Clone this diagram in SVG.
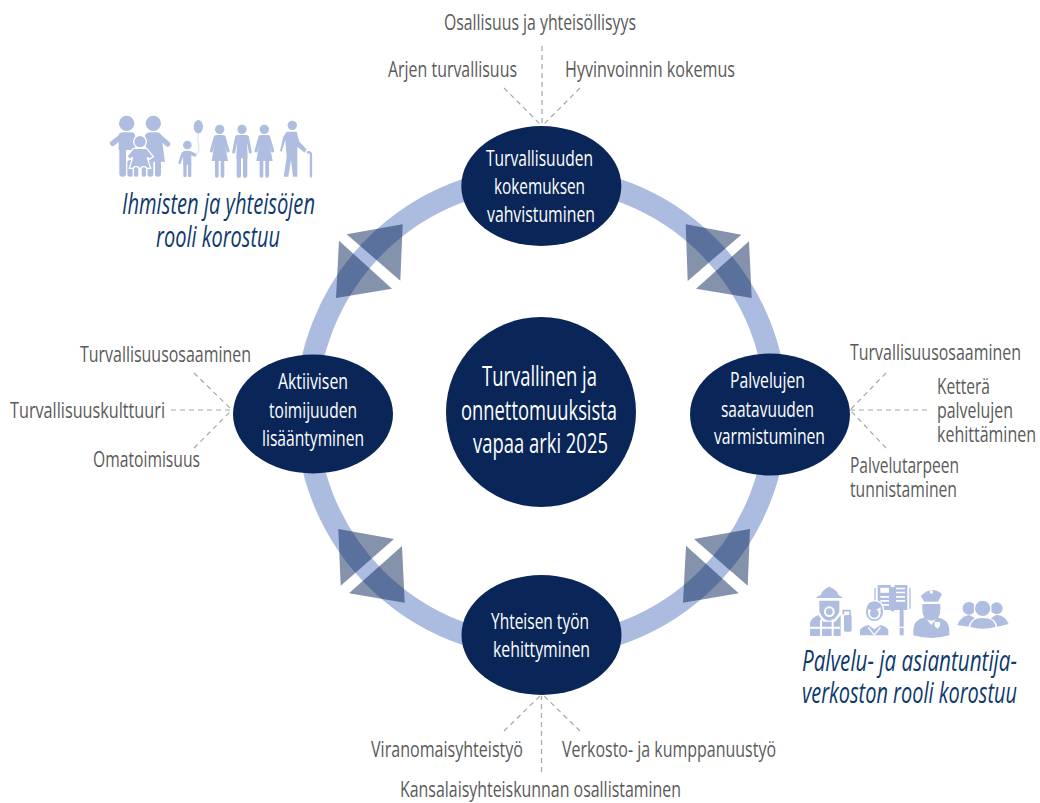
<svg xmlns="http://www.w3.org/2000/svg" width="1040" height="803" viewBox="0 0 1040 803">
<style>
text{font-family:"Open Sans","Noto Sans","Liberation Sans",sans-serif}
.l{font-size:22px;fill:#5a5a5a}
.n{font-size:22px;fill:#fff}
.c{font-size:27px;fill:#fff}
.i{font-size:29px;font-style:italic;fill:#0e3a6c}
.d{fill:#0a2659}
.t{fill:#0a2659;fill-opacity:.5}
.a{stroke:#a6a6a6;stroke-width:1.2;stroke-dasharray:5 4;fill:none}
.p{fill:#aebde0}
.w{fill:#fff}
.s{stroke:#aebde0;fill:none;stroke-linecap:round}
</style>
<rect width="1040" height="803" fill="#fff"/>
<g id="ring"><circle cx="541.5" cy="412" r="235" fill="none" stroke="#abbce0" stroke-width="22"/></g>
<g id="transitions">
<polygon class="t" points="346.7,234.3 402.7,224.3 400.3,280.7"/><polygon class="t" points="339,240.7 392,288.7 336,298"/>
<polygon class="t" points="685.7,224.3 741.3,234.7 687.7,281"/><polygon class="t" points="749,241.3 751.7,298 696,288.7"/>
<polygon class="t" points="338.3,529 394,539 340.7,585.7"/><polygon class="t" points="402,546 404.7,602.7 349,593.3"/>
<polygon class="t" points="694,539 750,529 747.7,585.7"/><polygon class="t" points="686,545.7 738.7,593.3 683,602.7"/>
</g>
<g id="connectors">
<path class="a" d="M542 46V125M504 88L541 125M580 88L543 125"/>
<path class="a" d="M194 373L231 409M171 410H232M194 448L231 411"/>
<path class="a" d="M886 373L851 409M927 410H850M886 448L851 411"/>
<path class="a" d="M504 731L540 696M541.5 772V696M580 731L544 696"/>
</g>
<g id="center"><circle class="d" cx="541" cy="412" r="95"/>
<text class="c" transform="translate(482 386) scale(.73 1)" textLength="157.5" lengthAdjust="spacingAndGlyphs">Turvallinen ja</text>
<text class="c" transform="translate(461 420) scale(.73 1)" textLength="213.7" lengthAdjust="spacingAndGlyphs">onnettomuuksista</text>
<text class="c" transform="translate(473 453) scale(.73 1)" textLength="184.9" lengthAdjust="spacingAndGlyphs">vapaa arki 2025</text></g>
<g id="node-top"><ellipse class="d" cx="541.3" cy="186" rx="80" ry="60"/>
<text class="n" transform="translate(486 166) scale(.73 1)" textLength="146.6" lengthAdjust="spacingAndGlyphs">Turvallisuuden</text>
<text class="n" transform="translate(494 194) scale(.73 1)" textLength="124.7" lengthAdjust="spacingAndGlyphs">kokemuksen</text>
<text class="n" transform="translate(487 222) scale(.73 1)" textLength="147.9" lengthAdjust="spacingAndGlyphs">vahvistuminen</text></g>
<g id="node-left"><ellipse class="d" cx="313" cy="414" rx="80" ry="59.5"/>
<text class="n" transform="translate(278 389) scale(.73 1)" textLength="95.9" lengthAdjust="spacingAndGlyphs">Aktiivisen</text>
<text class="n" transform="translate(269 418) scale(.73 1)" textLength="120.5" lengthAdjust="spacingAndGlyphs">toimijuuden</text>
<text class="n" transform="translate(262 446) scale(.73 1)" textLength="139.7" lengthAdjust="spacingAndGlyphs">lisääntyminen</text></g>
<g id="node-right"><ellipse class="d" cx="770" cy="414.5" rx="80" ry="61"/>
<text class="n" transform="translate(730 388) scale(.73 1)" textLength="102.7" lengthAdjust="spacingAndGlyphs">Palvelujen</text>
<text class="n" transform="translate(721 417) scale(.73 1)" textLength="127.4" lengthAdjust="spacingAndGlyphs">saatavuuden</text>
<text class="n" transform="translate(714 444) scale(.73 1)" textLength="152.1" lengthAdjust="spacingAndGlyphs">varmistuminen</text></g>
<g id="node-bottom"><ellipse class="d" cx="541.5" cy="635" rx="80" ry="60"/>
<text class="n" transform="translate(491 629) scale(.73 1)" textLength="134.2" lengthAdjust="spacingAndGlyphs">Yhteisen työn</text>
<text class="n" transform="translate(493 657) scale(.73 1)" textLength="132.9" lengthAdjust="spacingAndGlyphs">kehittyminen</text></g>
<g id="labels">
<text class="l" transform="translate(444 30) scale(.73 1)" textLength="263" lengthAdjust="spacingAndGlyphs">Osallisuus ja yhteisöllisyys</text>
<text class="l" transform="translate(388 77) scale(.73 1)" textLength="176.7" lengthAdjust="spacingAndGlyphs">Arjen turvallisuus</text>
<text class="l" transform="translate(565 77) scale(.73 1)" textLength="232.9" lengthAdjust="spacingAndGlyphs">Hyvinvoinnin kokemus</text>
<text class="l" transform="translate(80 362) scale(.73 1)" textLength="234.2" lengthAdjust="spacingAndGlyphs">Turvallisuusosaaminen</text>
<text class="l" transform="translate(10 418) scale(.73 1)" textLength="212.3" lengthAdjust="spacingAndGlyphs">Turvallisuuskulttuuri</text>
<text class="l" transform="translate(93 467) scale(.73 1)" textLength="146.6" lengthAdjust="spacingAndGlyphs">Omatoimisuus</text>
<text class="l" transform="translate(850 360) scale(.73 1)" textLength="234.2" lengthAdjust="spacingAndGlyphs">Turvallisuusosaaminen</text>
<text class="l" transform="translate(937 394) scale(.73 1)" textLength="72.6" lengthAdjust="spacingAndGlyphs">Ketterä</text>
<text class="l" transform="translate(937 418) scale(.73 1)" textLength="104.1" lengthAdjust="spacingAndGlyphs">palvelujen</text>
<text class="l" transform="translate(937 442) scale(.73 1)" textLength="135.6" lengthAdjust="spacingAndGlyphs">kehittäminen</text>
<text class="l" transform="translate(850 473) scale(.73 1)" textLength="149.3" lengthAdjust="spacingAndGlyphs">Palvelutarpeen</text>
<text class="l" transform="translate(850 497) scale(.73 1)" textLength="146.6" lengthAdjust="spacingAndGlyphs">tunnistaminen</text>
<text class="l" transform="translate(371 757) scale(.73 1)" textLength="208.2" lengthAdjust="spacingAndGlyphs">Viranomaisyhteistyö</text>
<text class="l" transform="translate(562 757) scale(.73 1)" textLength="293.2" lengthAdjust="spacingAndGlyphs">Verkosto- ja kumppanuustyö</text>
<text class="l" transform="translate(400 797) scale(.73 1)" textLength="384.9" lengthAdjust="spacingAndGlyphs">Kansalaisyhteiskunnan osallistaminen</text>
<text class="i" transform="translate(122 214) scale(.73 1)" textLength="264.4" lengthAdjust="spacingAndGlyphs">Ihmisten ja yhteisöjen</text>
<text class="i" transform="translate(156 247) scale(.73 1)" textLength="169.9" lengthAdjust="spacingAndGlyphs">rooli korostuu</text>
<text class="i" transform="translate(802 671) scale(.73 1)" textLength="294.5" lengthAdjust="spacingAndGlyphs">Palvelu- ja asiantuntija-</text>
<text class="i" transform="translate(802 703) scale(.73 1)" textLength="294.5" lengthAdjust="spacingAndGlyphs">verkoston rooli korostuu</text>
</g>
<g id="icon-people" transform="translate(90 100) scale(.3333)">
<circle class="p" cx="110" cy="70" r="23"/><circle class="p" cx="190" cy="70" r="23"/>
<path class="s" stroke-width="16" d="M96 108L68 130M205 108L233 132"/>
<path class="p" d="M86 105Q88 97 100 97H122Q136 97 136 110V150H86Z"/>
<rect class="p" x="88" y="130" width="20" height="100" rx="9"/><rect class="p" x="112" y="180" width="18" height="50" rx="8"/>
<path class="p" d="M165 105Q170 97 180 97H200Q212 97 214 108L225 185H170Z"/>
<rect class="p" x="172" y="180" width="18" height="50" rx="8"/><rect class="p" x="195" y="180" width="18" height="50" rx="8"/>
<g stroke="#fff" stroke-width="4"><circle class="p" cx="150" cy="125" r="19"/>
<path class="p" d="M130 145H170L190 170L178 178L172 172L182 205H118L128 172L122 178L110 170Z"/>
<rect class="p" x="130" y="200" width="17" height="32" rx="7"/><rect class="p" x="153" y="200" width="17" height="32" rx="7"/></g>
<circle class="p" cx="292" cy="135" r="13"/>
<path class="p" d="M278 158Q278 152 285 152H300L320 162L316 171L304 166V195H280Z"/>
<path class="s" stroke-width="8" d="M278 160L269 188"/>
<rect class="p" x="280" y="190" width="10" height="41" rx="4"/><rect class="p" x="294" y="190" width="10" height="41" rx="4"/>
<ellipse class="p" cx="325" cy="80" rx="14" ry="20"/>
<path class="s" stroke-width="1.5" d="M325 100Q320 120 327 140Q330 155 318 165"/>
<circle class="p" cx="389" cy="88" r="14"/>
<path class="p" d="M378 105H400L414 183H365Z"/><path class="s" stroke-width="9" d="M376 110L364 153M402 110L414 153"/>
<rect class="p" x="375" y="180" width="11" height="53" rx="5"/><rect class="p" x="392" y="180" width="11" height="53" rx="5"/>
<circle class="p" cx="456" cy="88" r="14"/>
<path class="p" d="M442 105H470L473 175H439Z"/><path class="s" stroke-width="9" d="M440 110L431 156M472 110L481 156"/>
<rect class="p" x="440" y="170" width="13" height="63" rx="5"/><rect class="p" x="459" y="170" width="13" height="63" rx="5"/>
<circle class="p" cx="523" cy="88" r="14"/>
<path class="p" d="M512 105H534L548 183H499Z"/><path class="s" stroke-width="9" d="M510 110L498 153M536 110L548 153"/>
<rect class="p" x="509" y="180" width="11" height="53" rx="5"/><rect class="p" x="526" y="180" width="11" height="53" rx="5"/>
<circle class="p" cx="607" cy="76" r="14"/>
<path class="p" d="M590 95H620L628 125L650 148L644 158L622 140V175L622 230H609L603 180L595 230H581L590 170L586 120L575 155L570 153L580 110Z"/>
<path class="s" stroke-width="7" d="M653 157Q663 155 663 165V229"/>
</g>
<g id="icon-services" transform="translate(790 570) scale(.3333)">
<path class="p" d="M78 84Q85 76 92 76Q95 60 118 50Q142 60 146 76Q152 76 158 84Z"/>
<path class="p" d="M88 92H148V125Q135 152 118 152Q100 152 88 125Z"/>
<circle class="w" cx="118" cy="125" r="16"/><circle class="p" cx="118" cy="125" r="10"/>
<path class="p" d="M85 135L100 155H136L152 135V198H60V160Q62 145 85 135Z"/>
<path class="w" d="M60 170H150V176H60ZM90 176H96V198H90ZM125 176H131V198H125ZM90 150L96 146V176H90ZM125 146L131 150V176H125Z"/>
<rect class="p" x="162" y="135" width="23" height="50" rx="5"/><path class="s" stroke-width="5" d="M160 132V122H180V135"/>
<path class="p" d="M263 45H302V50L308 52L314 50V45H352V120H314L308 126L302 120H263Z"/>
<path class="s" stroke-width="4" d="M255 55V120M360 55V115"/>
<path class="w" d="M271 53H297V68H271ZM318 53H345V58H318ZM318 65H345V70H318ZM318 78H345V83H318ZM318 90H345V95H318ZM271 78H297V83H271ZM271 90H297V95H271ZM271 102H297V107H271Z"/>
<path stroke="#fff" stroke-width="4" class="p" d="M226 125Q228 92 253 92Q280 92 281 125Q281 152 253 155Q226 152 226 125Z"/><path class="w" d="M234 118Q255 125 272 112V130Q270 148 253 148Q236 148 234 130Z"/><circle class="p" cx="253" cy="130" r="13"/>
<path class="p" d="M210 196V180Q215 170 235 165L253 178L272 165Q290 170 295 180V196Z"/>
<path class="w" d="M236 170L253 192L270 170L273 173L253 198L233 173Z"/>
<path class="p" d="M329 125L335 100L341 125V170H329ZM329 174H341V196H329Z"/>
<path class="p" d="M392 78Q425 45 456 72L444 95H403Z"/><circle class="w" cx="424" cy="66" r="5"/>
<path class="p" d="M397 100H451V120Q451 150 424 152Q397 150 397 120Z"/><rect class="w" x="397" y="98" width="54" height="4"/>
<path class="p" d="M405 142L424 165L443 142Q478 150 478 180V196Q425 212 370 196V180Q370 150 405 142Z"/>
<path class="w" d="M434 156H450V168L442 176L434 168Z"/>
<circle class="p" cx="537" cy="115" r="19"/><circle class="p" cx="620" cy="115" r="18"/>
<path class="p" d="M502 165Q510 140 538 135L555 145L535 170Z"/><path class="p" d="M656 162Q648 138 620 134L602 145L622 170Z"/>
<circle stroke="#fff" stroke-width="4" class="p" cx="578" cy="115" r="25"/>
<path stroke="#fff" stroke-width="4" class="p" d="M538 172Q542 142 578 142Q616 142 620 172Q578 185 538 172Z"/>
</g>
</svg>
